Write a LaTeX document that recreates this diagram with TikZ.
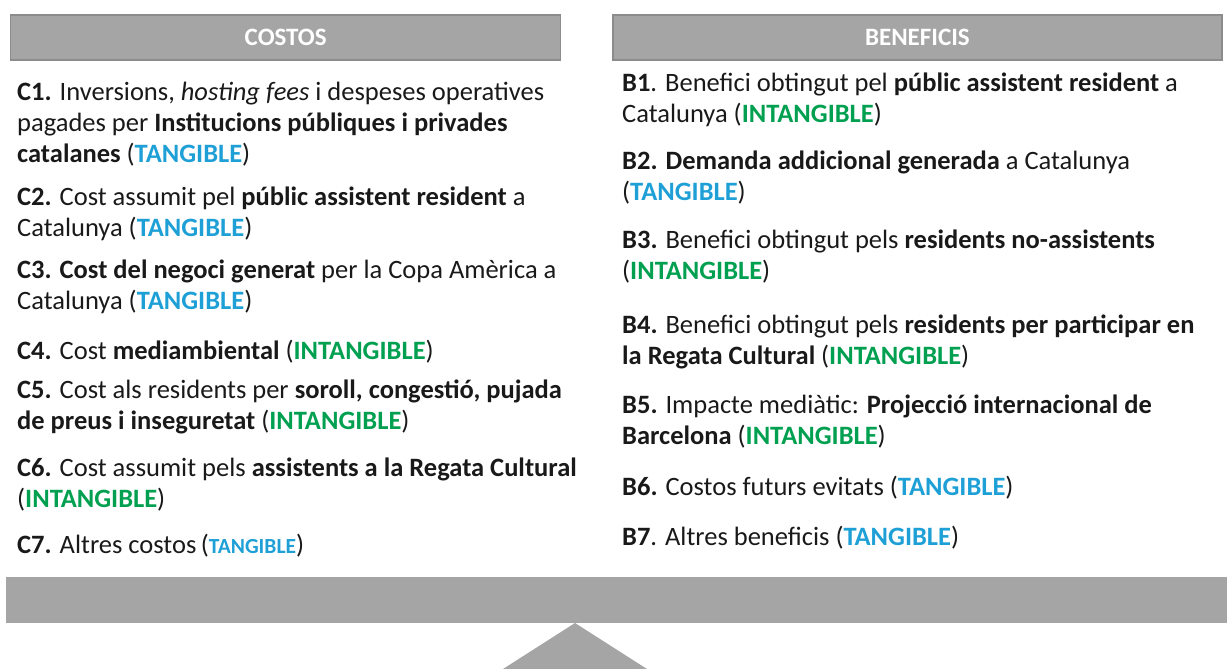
\documentclass[tikz,border=0pt]{standalone}
\usepackage{fontspec}
\setmainfont{Carlito}
\usetikzlibrary{positioning}

\definecolor{boxgray}{RGB}{165,165,165}
\definecolor{edgegray}{RGB}{140,140,140}
\definecolor{tangblue}{RGB}{30,160,215}
\definecolor{intanggreen}{RGB}{0,160,80}
\definecolor{inkblack}{RGB}{25,25,25}

\newcommand{\tang}{(\textcolor{tangblue}{\textbf{TANGIBLE}})}
\newcommand{\intang}{(\textcolor{intanggreen}{\textbf{INTANGIBLE}})}

\begin{document}
\begin{tikzpicture}[
    x=1pt, y=-1pt,
    header/.style={draw=edgegray, line width=1.2pt, fill=boxgray, text=white,
        minimum height=45pt, font=\fontsize{25}{28}\selectfont\bfseries},
    entry/.style={anchor=north west, inner sep=0pt, align=left, text=inkblack,
        font=\fontsize{26.5}{31}\selectfont, execute at begin node=\strut}
]
\useasboundingbox (0,0) rectangle (1227,669);

% column headers
\node[header, minimum width=550pt] (costos) at (285.7,37.5) {COSTOS};
\node[header, minimum width=609pt] (beneficis) at (917.4,37.5) {BENEFICIS};

% costs
\node[entry] (c1) at (17,82) {\textbf{C1.} Inversions, \textit{hosting fees} i despeses operatives\\
    pagades per \textbf{Institucions públiques i privades}\\
    \textbf{catalanes} \tang};
\node[entry] (c2) at (17,187) {\textbf{C2.} Cost assumit pel \textbf{públic assistent resident} a\\
    Catalunya \tang};
\node[entry] (c3) at (17,260) {\textbf{C3. Cost del negoci generat} per la Copa Amèrica a\\
    Catalunya \tang};
\node[entry] (c4) at (17,338) {\textbf{C4.} Cost \textbf{mediambiental} \intang};
\node[entry] (c5) at (17,380) {\textbf{C5.} Cost als residents per \textbf{soroll, congestió, pujada}\\
    \textbf{de preus i inseguretat} \intang};
\node[entry] (c6) at (17,458) {\textbf{C6.} Cost assumit pels \textbf{assistents a la Regata Cultural}\\
    \intang};
\node[entry] (c7) at (17,532) {\textbf{C7.} Altres costos\,({\fontsize{21.5}{24}\selectfont\textcolor{tangblue}{\textbf{TANGIBLE}}})};

% benefits
\node[entry] (b1) at (622,73) {\textbf{B1}. Benefici obtingut pel \textbf{públic assistent resident} a\\
    Catalunya \intang};
\node[entry] (b2) at (622,151) {\textbf{B2. Demanda addicional generada} a Catalunya\\
    \tang};
\node[entry] (b3) at (622,230) {\textbf{B3.} Benefici obtingut pels \textbf{residents no-assistents}\\
    \intang};
\node[entry] (b4) at (622,315) {\textbf{B4.} Benefici obtingut pels \textbf{residents per participar en}\\
    \textbf{la Regata Cultural} \intang};
\node[entry] (b5) at (622,395) {\textbf{B5.} Impacte mediàtic: \textbf{Projecció internacional de}\\
    \textbf{Barcelona} \intang};
\node[entry] (b6) at (622,474) {\textbf{B6.} Costos futurs evitats \tang};
\node[entry] (b7) at (622,524) {\textbf{B7}. Altres beneficis \tang};

% balance
\node[fill=boxgray, minimum width=1221pt, minimum height=46pt, inner sep=0pt] (beam) at (616.5,600) {};
\coordinate (apex) at (575,623);
\fill[boxgray] (apex) -- (647,669) -- (503,669) -- cycle;

\end{tikzpicture}
\end{document}
